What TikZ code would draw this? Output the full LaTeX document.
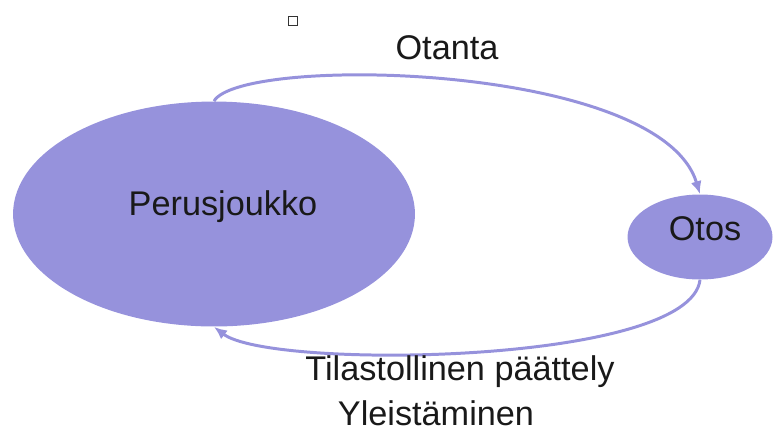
\documentclass[tikz,border=0pt]{standalone}
\usepackage{fontspec}
\setmainfont{Liberation Sans}
\usetikzlibrary{shapes.geometric,arrows.meta}
\definecolor{lila}{RGB}{150,146,220}
\tikzset{
  blob/.style={ellipse, fill=lila, inner sep=0pt},
  link/.style={draw=lila, line width=1.7pt, -{Latex[length=0.26cm,width=0.22cm]}},
  lbl/.style={font=\fontsize{19.5}{23}\selectfont, text=black!90}
}
\begin{document}
\begin{tikzpicture}[x=0.02cm, y=-0.02cm]
\useasboundingbox (0,0) rectangle (773,434);

% the two sets
\node [blob, minimum width=8.04cm, minimum height=4.5cm] (pj) at (214,214) {};
\node [blob, minimum width=2.9cm, minimum height=1.7cm] (ot) at (700,237) {};
\node [lbl] (pjt) at (223,207) {Perusjoukko};
\node [lbl] (ott) at (705,229) {Otos};

% arrows
\draw [link] (pj.north) .. controls (240,55) and (660,62) .. (ot.north);
\draw [link] (ot.south) .. controls (690,365) and (270,370) .. (pj.south);

\node [lbl] (otanta) at (447,48) {Otanta};
\node [lbl] (tp) at (460,372) {Tilastollinen päättely};
\node [lbl] (yl) at (436,413) {Yleistäminen};

\node [draw=black!80, line width=0.8pt, minimum size=0.18cm, inner sep=0pt] (sq) at (293,21) {};

\end{tikzpicture}
\end{document}
